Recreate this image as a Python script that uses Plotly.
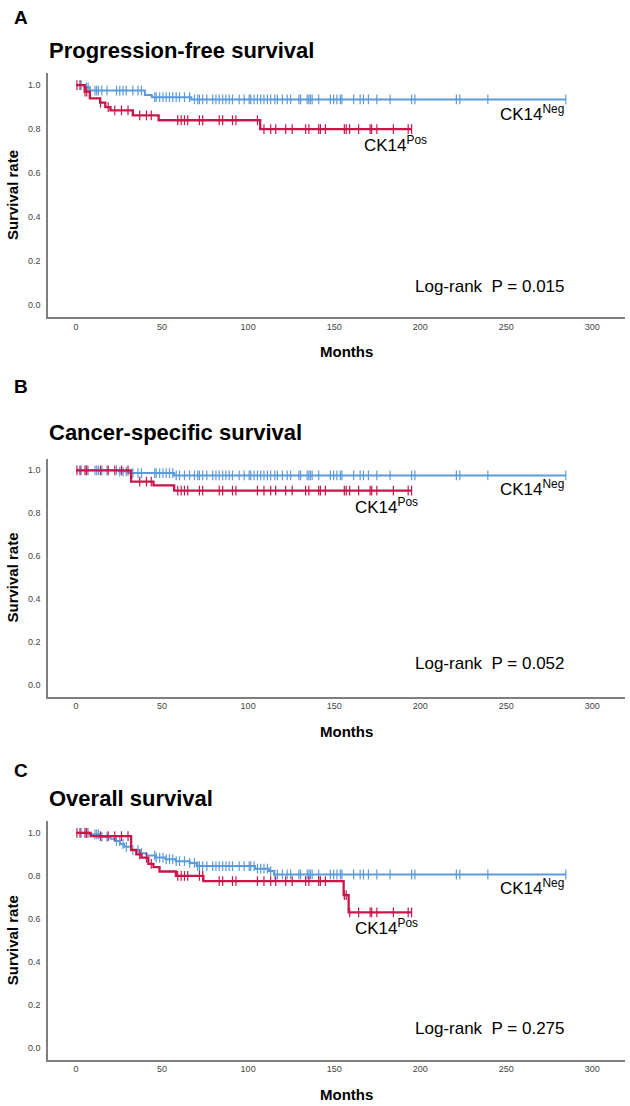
import numpy as np
import plotly.graph_objects as go

# ---------------- data ----------------
months_ticks = [0, 50, 100, 150, 200, 250, 300]
rate_ticks = [0.0, 0.2, 0.4, 0.6, 0.8, 1.0]
rate_ticklabels = ["0.0", "0.2", "0.4", "0.6", "0.8", "1.0"]

panel_letters = ["A", "B", "C"]
panel_titles = ["Progression-free survival", "Cancer-specific survival", "Overall survival"]
pvalues = ["0.015", "0.052", "0.275"]

# CK14 negative (blue) : event times and survival after each event
pfs_neg_t = [5, 8, 40, 44, 67]
pfs_neg_s = [0.99, 0.975, 0.955, 0.945, 0.935]
css_neg_t = [25, 31, 57]
css_neg_s = [0.994, 0.987, 0.976]
os_neg_t = [8, 14, 20, 22.5, 25.5, 28, 32, 37, 41, 46, 52, 58, 66, 70, 104, 112, 115]
os_neg_s = [0.993, 0.981, 0.972, 0.962, 0.948, 0.935, 0.92, 0.905, 0.895, 0.885,
            0.877, 0.868, 0.86, 0.845, 0.833, 0.822, 0.806]

# CK14 positive (red)
pfs_pos_t = [5, 8, 14, 17, 20, 33, 48, 107]
pfs_pos_s = [0.97, 0.94, 0.92, 0.90, 0.885, 0.862, 0.84, 0.80]
css_pos_t = [32, 45, 57]
css_pos_s = [0.947, 0.93, 0.905]
os_pos_t = [8.5, 32, 35, 38, 42, 45, 48.5, 58, 74, 155.5, 158.4]
os_pos_s = [0.985, 0.92, 0.90, 0.885, 0.855, 0.84, 0.82, 0.80, 0.775, 0.71, 0.63]

# censoring times
neg_censor = [3, 6, 7, 11, 12, 13, 15, 18, 23.5, 25.4, 27.3, 29.2, 33, 36, 38, 45.7, 46.6,
              48.6, 50.5, 52.4, 54.3, 56.2, 58.2, 60.1, 63, 66, 68.8, 70.7, 71.7, 73.6, 76,
              79.4, 81.3, 83.2, 85.2, 87.1, 89, 90.9, 94.8, 97.7, 100.6, 101.5, 103.5, 105.4,
              107.3, 109.2, 111.2, 113.1, 115.5, 117, 119.9, 122.7, 124.7, 129.5, 130.5, 134.3,
              135.3, 136.2, 137.2, 141, 147.8, 149.7, 151.6, 153.6, 154.5, 161.3, 165.1, 167,
              169.9, 174.8, 182.5, 195, 196.9, 221, 223, 239.3, 284.6]
pos_censor = [0.5, 2.3, 5.2, 6.2, 14.2, 18.7, 22.5, 26.4, 30.2, 37, 40.9, 43.7, 59.1, 61.1,
              63, 64.9, 71.7, 73.6, 83.2, 85.2, 90.9, 92.9, 105.4, 109.2, 113.1, 116, 121.8,
              125.6, 133.4, 135.3, 141, 142, 144.9, 155.9, 157, 159, 164.2, 170.9, 171.8,
              174.8, 184.4, 193, 195]

neg_events = [(pfs_neg_t, pfs_neg_s), (css_neg_t, css_neg_s), (os_neg_t, os_neg_s)]
pos_events = [(pfs_pos_t, pfs_pos_s), (css_pos_t, css_pos_s), (os_pos_t, os_pos_s)]

BLUE = "#5B9BDB"
RED = "#C8164A"
FONT = "Liberation Sans, Arial, sans-serif"

W, H = 630, 1106
# pixel layout
x_left, x_right = 48, 625
panel_px = [(73, 317), (458.5, 696.5), (821, 1059.5)]
letter_y = [17, 386, 770]
title_y = [50, 432, 798]


def py(p):
    return 1 - p / H


def px(p):
    return p / W


def km_step(times, surv, end):
    xs = [0] + list(times) + [end]
    ys = [1.0] + list(surv) + [surv[-1]]
    return xs, ys


def surv_at(times, surv, t):
    t_arr = np.asarray(times, dtype=float)
    s_arr = np.concatenate([[1.0], np.asarray(surv, dtype=float)])
    idx = np.searchsorted(t_arr, np.asarray(t, dtype=float), side="right")
    return s_arr[idx]


fig = go.Figure()
annotations = []
layout_axes = {}

for i in range(3):
    xa = "x" if i == 0 else f"x{i+1}"
    ya = "y" if i == 0 else f"y{i+1}"
    for (t, s), cens, color, lw in [(neg_events[i], neg_censor, BLUE, 2.0),
                                    (pos_events[i], pos_censor, RED, 2.3)]:
        end = max(cens)
        xs, ys = km_step(t, s, end)
        fig.add_trace(go.Scatter(x=xs, y=ys, mode="lines", line=dict(color=color, width=lw, shape="hv"),
                                 xaxis=xa, yaxis=ya, showlegend=False, hoverinfo="skip"))
        fig.add_trace(go.Scatter(x=cens, y=surv_at(t, s, cens), mode="markers",
                                 marker=dict(symbol="line-ns", size=7, color=color,
                                             line=dict(color=color, width=1.2)),
                                 xaxis=xa, yaxis=ya, showlegend=False, hoverinfo="skip"))

    top, bot = panel_px[i]
    xkey = "xaxis" if i == 0 else f"xaxis{i+1}"
    ykey = "yaxis" if i == 0 else f"yaxis{i+1}"
    layout_axes[xkey] = dict(domain=[px(x_left), px(x_right)], range=[-16.3, 319], anchor=ya,
                             tickvals=months_ticks, ticks="", showgrid=False, zeroline=False,
                             showline=True, linecolor="#7f7f7f", linewidth=1.5,
                             tickfont=dict(family=FONT, size=9, color="#444444"))
    layout_axes[ykey] = dict(domain=[py(bot), py(top)], range=[-0.055, 1.055], anchor=xa,
                             tickvals=rate_ticks, ticktext=rate_ticklabels, ticks="",
                             showgrid=False, zeroline=False, showline=True,
                             linecolor="#7f7f7f", linewidth=1.5, ticklabelstandoff=4,
                             tickfont=dict(family=FONT, size=9, color="#444444"))

    # panel letter and title
    annotations.append(dict(text=f"<b>{panel_letters[i]}</b>", x=px(12), y=py(letter_y[i]),
                            xref="paper", yref="paper", xanchor="left", yanchor="middle",
                            showarrow=False, font=dict(family=FONT, size=19, color="black")))
    annotations.append(dict(text=f"<b>{panel_titles[i]}</b>", x=px(47), y=py(title_y[i]),
                            xref="paper", yref="paper", xanchor="left", yanchor="middle",
                            showarrow=False, font=dict(family=FONT, size=22, color="black")))
    # axis titles
    annotations.append(dict(text="<b>Survival rate</b>", x=px(12), y=py((top + bot) / 2),
                            xref="paper", yref="paper", xanchor="center", yanchor="middle",
                            textangle=-90, showarrow=False,
                            font=dict(family=FONT, size=15, color="black")))
    annotations.append(dict(text="<b>Months</b>", x=px(346), y=py(bot + 35),
                            xref="paper", yref="paper", xanchor="center", yanchor="middle",
                            showarrow=False, font=dict(family=FONT, size=15, color="black")))
    # group labels
    neg_end = neg_events[i][1][-1]
    pos_end = pos_events[i][1][-1]
    annotations.append(dict(text="CK14<sup>Neg</sup>", x=245, y=neg_end - 0.06,
                            xref=xa, yref=ya, xanchor="left", yanchor="middle", showarrow=False,
                            font=dict(family=FONT, size=17, color="black")))
    annotations.append(dict(text="CK14<sup>Pos</sup>", x=161 if i else 166, y=pos_end - 0.07,
                            xref=xa, yref=ya, xanchor="left", yanchor="middle", showarrow=False,
                            font=dict(family=FONT, size=17, color="black")))
    # log-rank
    annotations.append(dict(text=f"Log-rank\u00a0\u00a0P = {pvalues[i]}", x=196,
                            y=[0.086, 0.10, 0.09][i],
                            xref=xa, yref=ya, xanchor="left", yanchor="middle", showarrow=False,
                            font=dict(family=FONT, size=17, color="black")))

fig.update_layout(width=W, height=H, margin=dict(l=0, r=0, t=0, b=0),
                  paper_bgcolor="white", plot_bgcolor="white",
                  annotations=annotations, **layout_axes)

# remove the default 8px page margin so the figure fills the window exactly
fig.write_html("out.html", config={"displayModeBar": False},
               post_script="document.body.style.margin='0';document.body.style.overflow='hidden';")
